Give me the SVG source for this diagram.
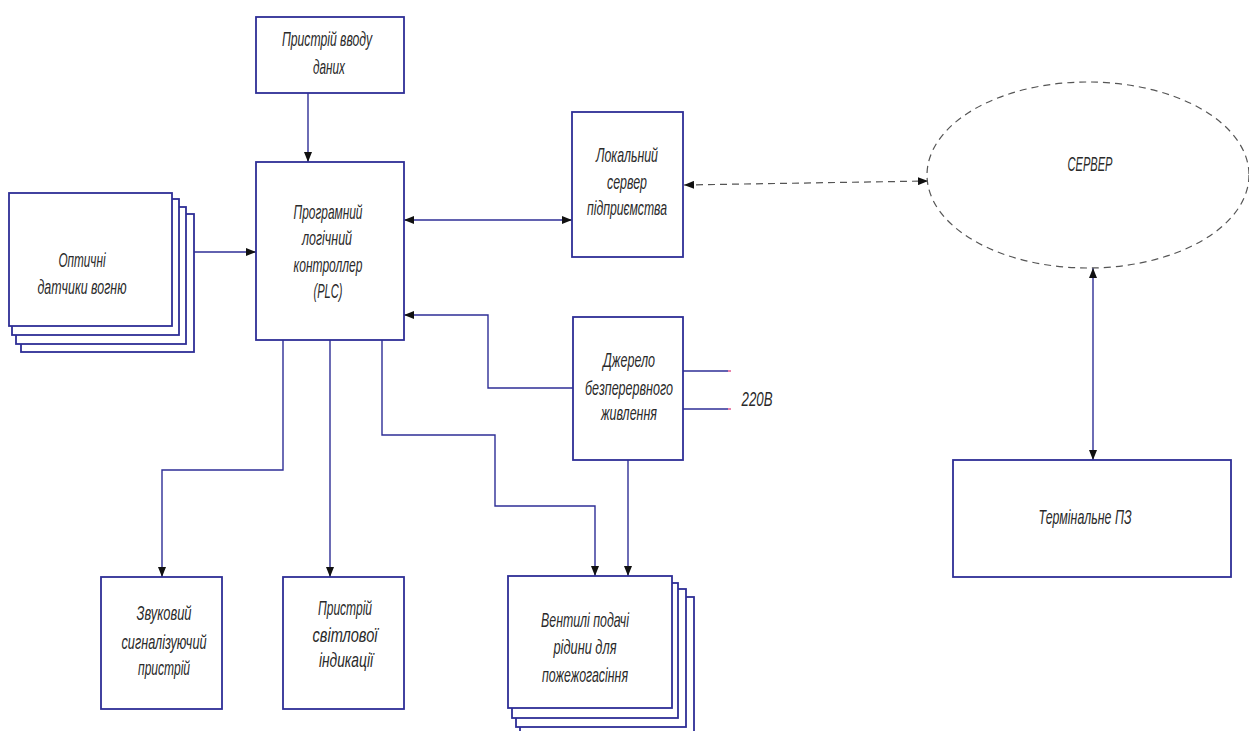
<svg xmlns="http://www.w3.org/2000/svg" width="1249" height="731" viewBox="0 0 1249 731">
<style>
.box{fill:#fff;stroke:#2e2e96;stroke-width:1.8}
.ln{fill:none;stroke:#2e2e96;stroke-width:1.4}
.dash{fill:none;stroke:#555;stroke-width:1.2;stroke-dasharray:7 5}
.t{font-family:"Liberation Sans",Arial,sans-serif;font-style:italic;font-size:21px;fill:#2a2a2a;text-anchor:middle}
.pin{stroke:#e0508a;stroke-width:1.4}
</style>
<defs>
<marker id="ah" viewBox="0 0 10 8" refX="10" refY="4" markerWidth="10" markerHeight="8" markerUnits="userSpaceOnUse" orient="auto-start-reverse">
<path d="M0,0 L10,4 L0,8 z" fill="#111"/>
</marker>
</defs>
<rect width="1249" height="731" fill="#fff"/>

<g id="connectors">
<line class="ln" x1="308" y1="93" x2="308" y2="162" marker-end="url(#ah)"/>
<line class="ln" x1="194" y1="252" x2="256" y2="252" marker-end="url(#ah)"/>
<line class="ln" x1="404" y1="220" x2="572" y2="220" marker-start="url(#ah)" marker-end="url(#ah)"/>
<polyline class="ln" points="573,388 488,388 488,315 404,315" marker-end="url(#ah)"/>
<polyline class="ln" points="283,340 283,470 162,470 162,577" marker-end="url(#ah)"/>
<line class="ln" x1="330" y1="340" x2="330" y2="577" marker-end="url(#ah)"/>
<polyline class="ln" points="382,340 382,435 495,435 495,506 595,506 595,576" marker-end="url(#ah)"/>
<line class="ln" x1="628" y1="460" x2="628" y2="576" marker-end="url(#ah)"/>
<line class="ln" x1="683" y1="371" x2="728" y2="371"/>
<line class="ln" x1="683" y1="409" x2="728" y2="409"/>
<line class="pin" x1="728" y1="371" x2="731" y2="371"/>
<line class="pin" x1="728" y1="409" x2="731" y2="409"/>
<line class="dash" x1="684" y1="185" x2="928" y2="181" marker-start="url(#ah)" marker-end="url(#ah)"/>
<line class="ln" x1="1093" y1="268" x2="1093" y2="460" marker-start="url(#ah)" marker-end="url(#ah)"/>
</g>

<g id="input">
<rect class="box" x="256" y="17" width="148" height="76"/>
<text class="t" x="327" y="46" textLength="90" lengthAdjust="spacingAndGlyphs">Пристрій вводу</text>
<text class="t" x="329" y="74" textLength="32" lengthAdjust="spacingAndGlyphs">даних</text>
</g>

<g id="plc">
<rect class="box" x="256" y="162" width="148" height="178"/>
<text class="t" x="328" y="219" textLength="69" lengthAdjust="spacingAndGlyphs">Програмний</text>
<text class="t" x="327" y="245" textLength="50" lengthAdjust="spacingAndGlyphs">логічний</text>
<text class="t" x="328" y="272" textLength="69" lengthAdjust="spacingAndGlyphs">контроллер</text>
<text class="t" x="328" y="298" textLength="29" lengthAdjust="spacingAndGlyphs">(PLC)</text>
</g>

<g id="sensors">
<rect class="box" x="21" y="214" width="173" height="138"/>
<rect class="box" x="16" y="207" width="170" height="137"/>
<rect class="box" x="12" y="199" width="167" height="136"/>
<rect class="box" x="9" y="193" width="163" height="133"/>
<text class="t" x="82" y="267" textLength="47" lengthAdjust="spacingAndGlyphs">Оптичні</text>
<text class="t" x="82" y="294" textLength="89" lengthAdjust="spacingAndGlyphs">датчики вогню</text>
</g>

<g id="local-server">
<rect class="box" x="572" y="112" width="111" height="145"/>
<text class="t" x="627" y="162" textLength="62" lengthAdjust="spacingAndGlyphs">Локальний</text>
<text class="t" x="627" y="189" textLength="40" lengthAdjust="spacingAndGlyphs">сервер</text>
<text class="t" x="627" y="215" textLength="80" lengthAdjust="spacingAndGlyphs">підприємства</text>
</g>

<g id="server">
<ellipse class="dash" cx="1088" cy="175" rx="161" ry="93" stroke-dasharray="8 5"/>
<text class="t" x="1090" y="171" textLength="45" lengthAdjust="spacingAndGlyphs">СЕРВЕР</text>
</g>

<g id="ups">
<rect class="box" x="573" y="317" width="110" height="143"/>
<text class="t" x="629" y="367" textLength="52" lengthAdjust="spacingAndGlyphs">Джерело</text>
<text class="t" x="629" y="395" textLength="88" lengthAdjust="spacingAndGlyphs">безперервного</text>
<text class="t" x="629" y="420" textLength="56" lengthAdjust="spacingAndGlyphs">живлення</text>
</g>

<g id="v220">
<text class="t" x="757" y="406" textLength="31" lengthAdjust="spacingAndGlyphs">220В</text>
</g>

<g id="sound">
<rect class="box" x="101" y="577" width="121" height="132"/>
<text class="t" x="164" y="620" textLength="55" lengthAdjust="spacingAndGlyphs">Звуковий</text>
<text class="t" x="164" y="649" textLength="85" lengthAdjust="spacingAndGlyphs">сигналізуючий</text>
<text class="t" x="164" y="675" textLength="52" lengthAdjust="spacingAndGlyphs">пристрій</text>
</g>

<g id="light">
<rect class="box" x="283" y="577" width="121" height="132"/>
<text class="t" x="345" y="615" textLength="54" lengthAdjust="spacingAndGlyphs">Пристрій</text>
<text class="t" x="345" y="642" textLength="65" lengthAdjust="spacingAndGlyphs">світлової</text>
<text class="t" x="346" y="667" textLength="54" lengthAdjust="spacingAndGlyphs">індикації</text>
</g>

<g id="valves">
<rect class="box" x="520" y="597" width="174" height="139"/>
<rect class="box" x="516" y="589" width="170" height="138"/>
<rect class="box" x="512" y="583" width="166" height="135"/>
<rect class="box" x="508" y="576" width="164" height="132"/>
<text class="t" x="585" y="627" textLength="88" lengthAdjust="spacingAndGlyphs">Вентилі подачі</text>
<text class="t" x="585" y="654" textLength="63" lengthAdjust="spacingAndGlyphs">рідини для</text>
<text class="t" x="585" y="682" textLength="86" lengthAdjust="spacingAndGlyphs">пожежогасіння</text>
</g>

<g id="terminal">
<rect class="box" x="953" y="460" width="278" height="117"/>
<text class="t" x="1085" y="524" textLength="93" lengthAdjust="spacingAndGlyphs">Термінальне ПЗ</text>
</g>
</svg>
